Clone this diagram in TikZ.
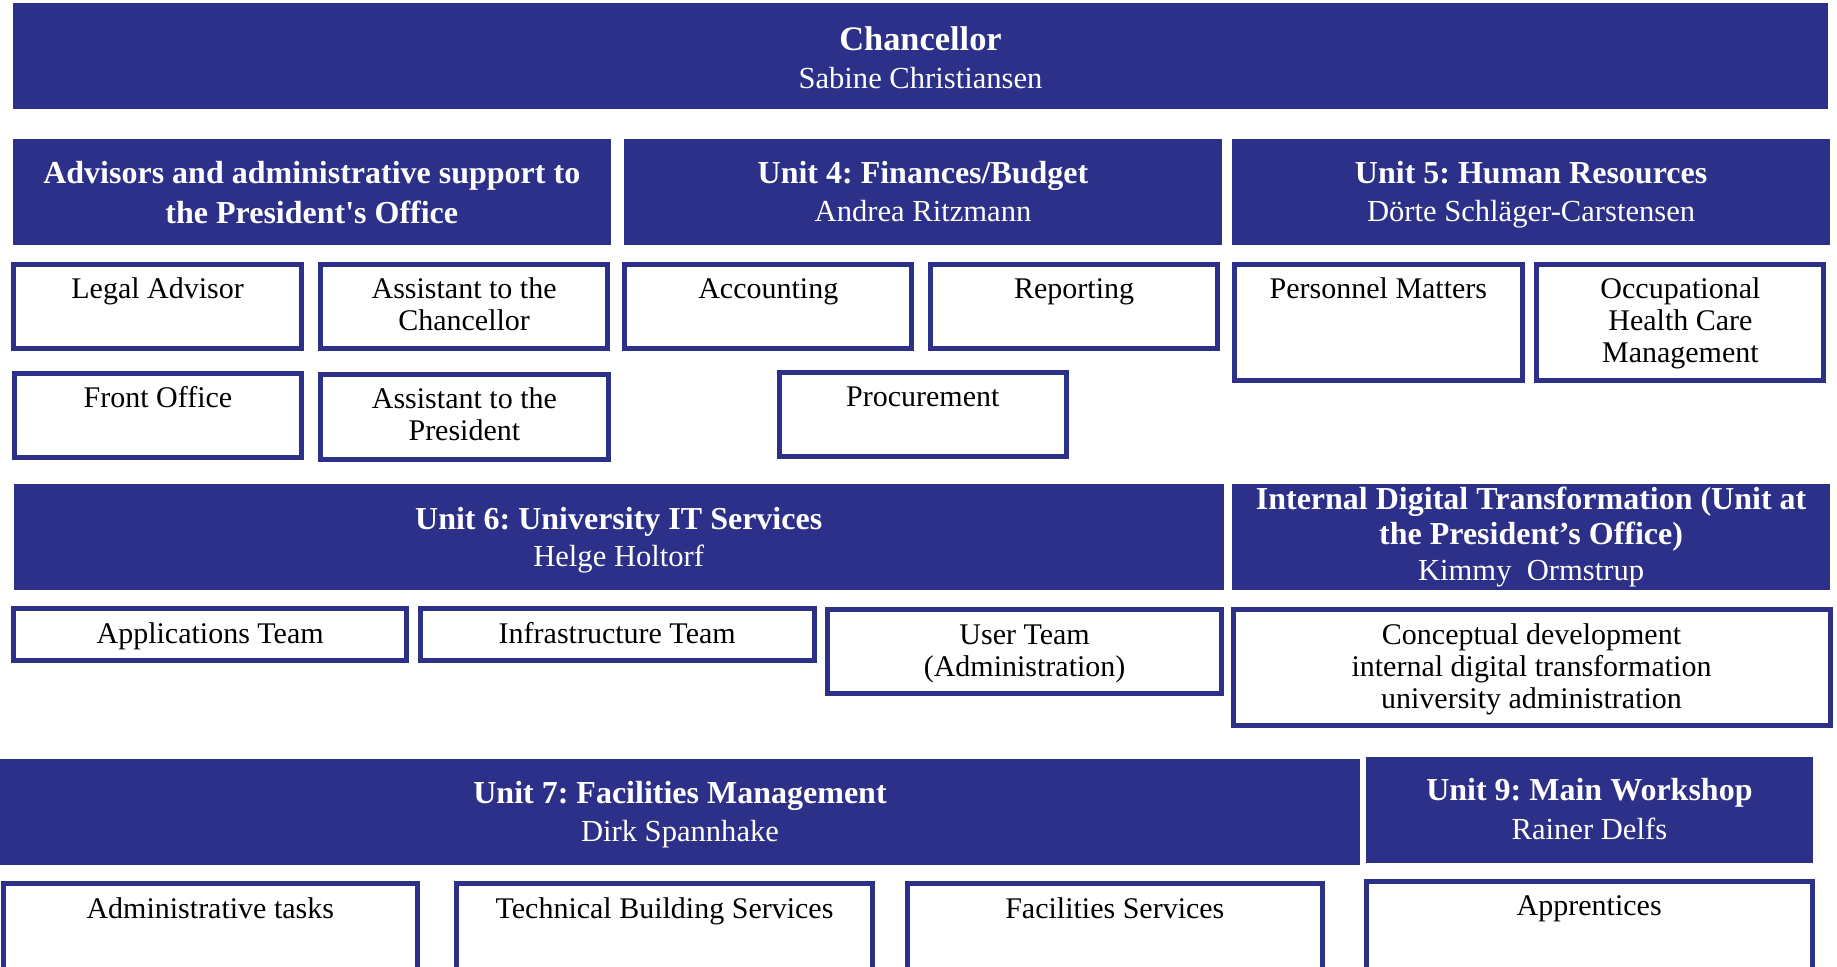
\documentclass[tikz,border=0pt]{standalone}
\usepackage{fontspec}
\setmainfont{Liberation Serif}
\usepackage{tikz}
\definecolor{unitblue}{RGB}{45,48,136}
\frenchspacing

\begin{document}
\begin{tikzpicture} [x = 0.5pt, y = -0.5pt,
    unitbox/.style = {fill = unitblue},
    teambox/.style = {draw = unitblue, line width = 2.5pt, fill = white},
    chieftext/.style = {anchor = base, text = white, font = \fontsize{17.2}{20}\selectfont\bfseries},
    headtext/.style = {anchor = base, text = white, font = \fontsize{16}{20}\selectfont\bfseries},
    nametext/.style = {anchor = base, text = white, font = \fontsize{15.3}{18}\selectfont},
    teamtext/.style = {anchor = north, yshift = 11.2pt, inner sep = 0pt, align = center, font = \fontsize{15}{16}\selectfont}]
\useasboundingbox (0, 0) rectangle (1837, 966);
\clip (0, 0) rectangle (1837, 966);
\path[unitbox] (12.9, 3.0) rectangle (1828.0, 108.7);
\path[unitbox] (12.9, 139.0) rectangle (610.7, 244.7);
\path[unitbox] (624.1, 139.0) rectangle (1221.9, 244.7);
\path[unitbox] (1232.1, 139.0) rectangle (1830.1, 244.7);
\path[unitbox] (13.8, 484.0) rectangle (1223.7, 589.7);
\path[unitbox] (1232.1, 484.0) rectangle (1830.1, 589.7);
\path[unitbox] (0.0, 759.0) rectangle (1360.1, 864.7);
\path[unitbox] (1366.2, 757.0) rectangle (1812.6, 862.7);
\draw[teambox] (13.7, 264.8) rectangle (301.5, 348.8);
\draw[teambox] (320.4, 264.8) rectangle (607.8, 348.8);
\draw[teambox] (624.8, 264.8) rectangle (911.8, 348.8);
\draw[teambox] (930.6, 264.8) rectangle (1217.6, 348.8);
\draw[teambox] (1234.6, 264.8) rectangle (1522.1, 380.8);
\draw[teambox] (1536.8, 264.8) rectangle (1823.9, 380.8);
\draw[teambox] (14.5, 373.5) rectangle (301.5, 457.5);
\draw[teambox] (320.5, 374.8) rectangle (608.2, 459.2);
\draw[teambox] (779.3, 372.5) rectangle (1066.3, 456.5);
\draw[teambox] (13.7, 608.2) rectangle (406.5, 660.2);
\draw[teambox] (420.4, 608.2) rectangle (814.0, 660.2);
\draw[teambox] (827.9, 609.2) rectangle (1221.2, 693.5);
\draw[teambox] (1233.0, 609.5) rectangle (1830.0, 725.8);
\draw[teambox] (3.5, 883.5) rectangle (417.1, 990.0);
\draw[teambox] (456.5, 883.5) rectangle (872.5, 990.0);
\draw[teambox] (907.0, 883.5) rectangle (1322.6, 990.0);
\draw[teambox] (1366.2, 881.8) rectangle (1812.2, 990.0);
\node[chieftext] (chancellor) at (920.5, 50.0){Chancellor};
\node[nametext] (chancellorname) at (920.5, 88.3){Sabine Christiansen};
\node[headtext, anchor = north, yshift = 14pt, inner sep = 0pt, align = center] (advisors) at (311.8, 182.7){\strut Advisors and administrative support to\\the President\textquotesingle s Office};
\node[headtext] (unitfour) at (923.0, 183.3){Unit 4: Finances/Budget};
\node[nametext] (unitfourname) at (923.0, 221.7){Andrea Ritzmann};
\node[headtext] (unitfive) at (1531.1, 183.3){Unit 5: Human Resources};
\node[nametext] (unitfivename) at (1531.1, 221.7){Dörte Schläger-Carstensen};
\node[headtext] (unitsix) at (618.7, 529.3){Unit 6: University IT Services};
\node[nametext] (unitsixname) at (618.7, 566.7){Helge Holtorf};
\node[headtext, anchor = north, yshift = 12.15pt, inner sep = 0pt, align = center, font = \fontsize{16}{17.35}\selectfont\bfseries] (digital) at (1531.1, 509.3){\strut Internal Digital Transformation (Unit at\\the President’s Office)};
\node[nametext] (digitalname) at (1531.1, 580.0){Kimmy\ \ Ormstrup};
\node[headtext] (unitseven) at (680.0, 803.3){Unit 7: Facilities Management};
\node[nametext] (unitsevenname) at (680.0, 841.7){Dirk Spannhake};
\node[headtext] (unitnine) at (1589.4, 800.0){Unit 9: Main Workshop};
\node[nametext] (unitninename) at (1589.4, 839.3){Rainer Delfs};
\node[teamtext] (legal) at (157.6, 298.3){\strut Legal Advisor};
\node[teamtext] (asschancellor) at (464.1, 298.3){\strut Assistant to the\\Chancellor};
\node[teamtext] (accounting) at (768.3, 298.3){\strut Accounting};
\node[teamtext] (reporting) at (1074.1, 298.3){\strut Reporting};
\node[teamtext] (personnel) at (1378.4, 298.3){\strut Personnel Matters};
\node[teamtext] (occupational) at (1680.4, 298.3){\strut Occupational\\Health Care\\Management};
\node[teamtext] (frontoffice) at (158.0, 407.3){\strut Front Office};
\node[teamtext] (asspresident) at (464.4, 408.3){\strut Assistant to the\\President};
\node[teamtext] (procurement) at (922.8, 406.0){\strut Procurement};
\node[teamtext] (applications) at (210.1, 643.3){\strut Applications Team};
\node[teamtext] (infrastructure) at (617.2, 643.3){\strut Infrastructure Team};
\node[teamtext] (userteam) at (1024.6, 644.0){\strut User Team\\(Administration)};
\node[teamtext] (conceptual) at (1531.5, 644.0){\strut Conceptual development\\internal digital transformation\\university administration};
\node[teamtext] (admintasks) at (210.3, 917.7){\strut Administrative tasks};
\node[teamtext] (technical) at (664.5, 917.7){\strut Technical Building Services};
\node[teamtext] (facilities) at (1114.8, 917.7){\strut Facilities Services};
\node[teamtext] (apprentices) at (1589.2, 915.0){\strut Apprentices};
\end{tikzpicture}
\end{document}
